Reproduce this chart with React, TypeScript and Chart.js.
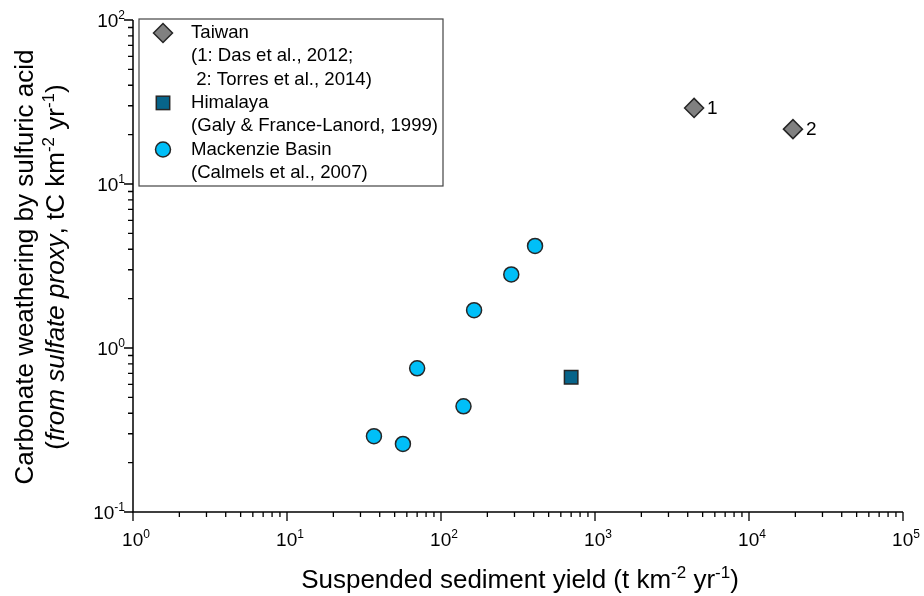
import React, { useEffect, useRef } from 'react';
import { Chart, registerables } from 'chart.js';
Chart.register(...registerables);

const FAMILY = '"Liberation Sans", Arial, Helvetica, sans-serif';

// Data
const taiwanX = [4400, 19300];
const taiwanY = [29.1, 21.6];
const taiwanLabels = ['1', '2'];
const himalayaX = [700];
const himalayaY = [0.663];
const mackenzieX = [408, 286, 164, 70, 140, 36.7, 56.6];
const mackenzieY = [4.19, 2.81, 1.7, 0.752, 0.441, 0.29, 0.26];

const xTickExp = [0, 1, 2, 3, 4, 5];
const yTickExp = [-1, 0, 1, 2];

type Seg = { t: string; it?: boolean; sup?: boolean };

const xTitle: Seg[] = [
  { t: 'Suspended sediment yield (t km' },
  { t: '-2', sup: true },
  { t: ' yr' },
  { t: '-1', sup: true },
  { t: ')' },
];
const yTitle1: Seg[] = [{ t: 'Carbonate weathering by sulfuric acid' }];
const yTitle2: Seg[] = [
  { t: '(' },
  { t: 'from sulfate proxy', it: true },
  { t: ', tC km' },
  { t: '-2', sup: true },
  { t: ' yr' },
  { t: '-1', sup: true },
  { t: ')' },
];

const legendLines = [
  'Taiwan',
  '(1: Das et al., 2012;',
  ' 2: Torres et al., 2014)',
  'Himalaya',
  '(Galy & France-Lanord, 1999)',
  'Mackenzie Basin',
  '(Calmels et al., 2007)',
];

const COL_TW = '#808080';
const COL_HI = '#07648a';
const COL_MK = '#00bff8';
const COL_EDGE = '#262626';

function segFont(s: Seg, size: number) {
  const sz = s.sup ? Math.round(size * 0.64) : size;
  return `${s.it ? 'italic ' : ''}${sz}px ${FAMILY}`;
}

function drawRich(ctx: CanvasRenderingContext2D, segs: Seg[], x: number, y: number, size: number, align: 'left' | 'center' | 'right') {
  let total = 0;
  const ws: number[] = [];
  for (const s of segs) {
    ctx.font = segFont(s, size);
    const w = ctx.measureText(s.t).width;
    ws.push(w);
    total += w;
  }
  let cx = align === 'center' ? x - total / 2 : align === 'right' ? x - total : x;
  ctx.textAlign = 'left';
  ctx.textBaseline = 'alphabetic';
  segs.forEach((s, i) => {
    ctx.font = segFont(s, size);
    ctx.fillText(s.t, cx, s.sup ? y - size * 0.4 : y);
    cx += ws[i];
  });
}

const decorPlugin = {
  id: 'decor',
  afterDraw(chart: any) {
    const ctx: CanvasRenderingContext2D = chart.ctx;
    const { left, right, top, bottom } = chart.chartArea;
    const xs = chart.scales.x;
    const ys = chart.scales.y;
    ctx.save();
    ctx.fillStyle = '#000';
    ctx.strokeStyle = '#000';

    // axes
    ctx.lineWidth = 1.5;
    ctx.beginPath();
    ctx.moveTo(left, top);
    ctx.lineTo(left, bottom);
    ctx.lineTo(right, bottom);
    ctx.stroke();

    // ticks
    ctx.lineWidth = 1.3;
    ctx.beginPath();
    for (let e = xTickExp[0]; e <= xTickExp[xTickExp.length - 1]; e++) {
      for (let m = 1; m <= 9; m++) {
        if (e === xTickExp[xTickExp.length - 1] && m > 1) break;
        const px = xs.getPixelForValue(m * Math.pow(10, e));
        const len = m === 1 ? 9 : 5;
        ctx.moveTo(px, bottom);
        ctx.lineTo(px, bottom + len);
      }
    }
    for (let e = yTickExp[0]; e <= yTickExp[yTickExp.length - 1]; e++) {
      for (let m = 1; m <= 9; m++) {
        if (e === yTickExp[yTickExp.length - 1] && m > 1) break;
        const py = ys.getPixelForValue(m * Math.pow(10, e));
        const len = m === 1 ? 9 : 5;
        ctx.moveTo(left, py);
        ctx.lineTo(left - len, py);
      }
    }
    ctx.stroke();

    // tick labels
    const TS = 19;
    for (const e of xTickExp) {
      const px = xs.getPixelForValue(Math.pow(10, e));
      drawRich(ctx, [{ t: '10' }, { t: String(e), sup: true }], px + 3, bottom + 34, TS, 'center');
    }
    for (const e of yTickExp) {
      const py = ys.getPixelForValue(Math.pow(10, e));
      drawRich(ctx, [{ t: '10' }, { t: String(e), sup: true }], left - 8, py + 7, TS, 'right');
    }

    // x title
    drawRich(ctx, xTitle, (left + right) / 2 + 2, bottom + 76, 26, 'center');

    // y titles
    const cy = 267;
    ctx.save();
    ctx.translate(33, cy);
    ctx.rotate(-Math.PI / 2);
    drawRich(ctx, yTitle1, 0, 0, 26, 'center');
    ctx.restore();
    ctx.save();
    ctx.translate(64, cy);
    ctx.rotate(-Math.PI / 2);
    drawRich(ctx, yTitle2, 0, 0, 26, 'center');
    ctx.restore();

    // point labels for Taiwan
    const tw = chart.getDatasetMeta(0);
    ctx.font = `19px ${FAMILY}`;
    ctx.textAlign = 'left';
    ctx.textBaseline = 'middle';
    tw.data.forEach((pt: any, i: number) => {
      ctx.fillText(taiwanLabels[i], pt.x + 13, pt.y + 1);
    });

    // legend
    const bx = 139, by = 19, bw = 304, bh = 167;
    ctx.fillStyle = '#fff';
    ctx.fillRect(bx, by, bw, bh);
    ctx.strokeStyle = '#444';
    ctx.lineWidth = 1.2;
    ctx.strokeRect(bx, by, bw, bh);
    ctx.fillStyle = '#000';
    ctx.font = `18.6px ${FAMILY}`;
    ctx.textAlign = 'left';
    ctx.textBaseline = 'middle';
    const rowY0 = by + 14;
    const rowH = 23.3;
    legendLines.forEach((line, i) => {
      ctx.fillText(line, bx + 52, rowY0 + i * rowH);
    });
    const mx = bx + 24;
    ctx.lineWidth = 1.5;
    ctx.strokeStyle = COL_EDGE;
    let y0 = rowY0;
    ctx.beginPath();
    ctx.moveTo(mx - 9.5, y0);
    ctx.lineTo(mx, y0 - 9.5);
    ctx.lineTo(mx + 9.5, y0);
    ctx.lineTo(mx, y0 + 9.5);
    ctx.closePath();
    ctx.fillStyle = COL_TW;
    ctx.fill();
    ctx.stroke();
    y0 = rowY0 + 3 * rowH;
    ctx.fillStyle = COL_HI;
    ctx.fillRect(mx - 6.7, y0 - 6.7, 13.4, 13.4);
    ctx.strokeRect(mx - 6.7, y0 - 6.7, 13.4, 13.4);
    y0 = rowY0 + 5 * rowH;
    ctx.beginPath();
    ctx.arc(mx, y0, 7.5, 0, Math.PI * 2);
    ctx.fillStyle = COL_MK;
    ctx.fill();
    ctx.stroke();

    ctx.restore();
  },
};

function toPts(xv: number[], yv: number[]) {
  return xv.map((x, i) => ({ x, y: yv[i] }));
}

export default function App() {
  const ref = useRef<HTMLCanvasElement | null>(null);
  useEffect(() => {
    if (!ref.current) return;
    const chart = new Chart(ref.current, {
      type: 'scatter',
      data: {
        datasets: [
          {
            label: 'Taiwan',
            data: toPts(taiwanX, taiwanY),
            pointStyle: 'rectRot',
            pointRadius: 9.5,
            backgroundColor: COL_TW,
            borderColor: COL_EDGE,
            borderWidth: 1.5,
          },
          {
            label: 'Himalaya',
            data: toPts(himalayaX, himalayaY),
            pointStyle: 'rect',
            pointRadius: 9.5,
            backgroundColor: COL_HI,
            borderColor: COL_EDGE,
            borderWidth: 1.5,
          },
          {
            label: 'Mackenzie Basin',
            data: toPts(mackenzieX, mackenzieY),
            pointStyle: 'circle',
            pointRadius: 7.5,
            backgroundColor: COL_MK,
            borderColor: COL_EDGE,
            borderWidth: 1.5,
          },
        ],
      },
      options: {
        responsive: false,
        animation: false,
        layout: { padding: { left: 133, top: 20, right: 21, bottom: 84 } },
        plugins: { legend: { display: false }, tooltip: { enabled: false } },
        scales: {
          x: { type: 'logarithmic', min: 1, max: 100000, display: false },
          y: { type: 'logarithmic', min: 0.1, max: 100, display: false },
        },
      },
      plugins: [decorPlugin],
    });
    return () => chart.destroy();
  }, []);
  return (
    <div style={{ position: 'fixed', left: 0, top: 0, width: 924, height: 596 }}>
      <canvas ref={ref} width={924} height={596} style={{ display: 'block' }} />
    </div>
  );
}
